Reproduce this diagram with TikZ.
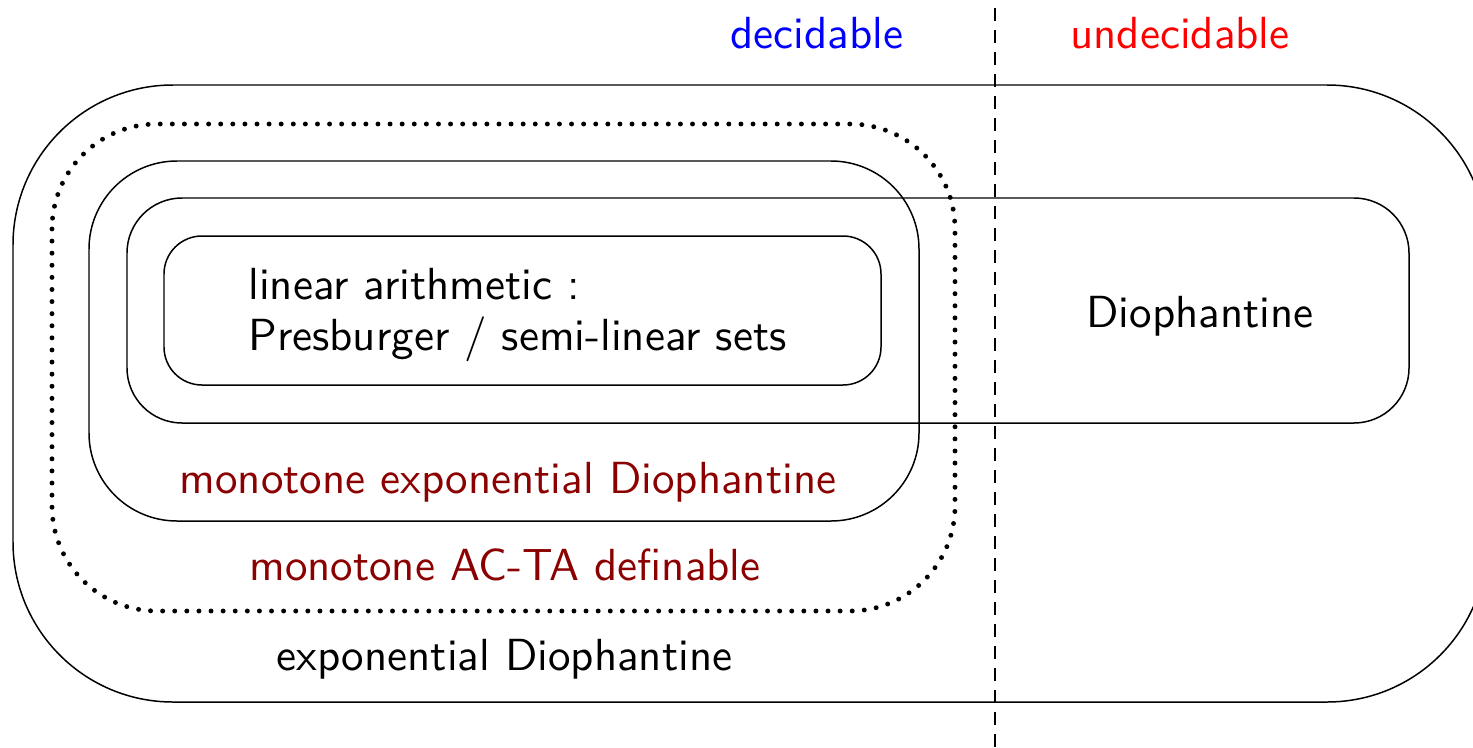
\documentclass[tikz,border=0pt]{standalone}
\usepackage{fontspec}
\newfontfamily\tensans{lmsans10-regular.otf}
\definecolor{darkred}{RGB}{139,0,0}
\tikzset{
  box/.style={draw, line width=0.85pt},
  dotbox/.style={draw, line width=2.8pt, line cap=round, dash pattern=on 0pt off 0.242cm},
  sep/.style={draw, line width=0.8pt, dash pattern=on 0.26cm off 0.18cm},
  lbl/.style={font=\tensans\fontsize{25.6}{30}\selectfont, inner sep=0pt}
}
\begin{document}
\begin{tikzpicture}[x=0.02cm, y=-0.02cm]
\useasboundingbox (0,0) rectangle (1473,747);
\clip (0,0) rectangle (1473,747);
% separator
\coordinate (dtop) at (995,8);
\coordinate (dbot) at (995,747);
\draw[sep] (dtop) -- (dbot);
% sets
\draw[box, rounded corners=3.2cm] (13,85) rectangle (1487,702);
\draw[dotbox, rounded corners=2.1cm] (52,124) rectangle (955,611);
\draw[box, rounded corners=1.76cm] (89,161) rectangle (919,521);
\draw[box, rounded corners=1.1cm] (127,198) rectangle (1409,423);
\draw[box, rounded corners=0.76cm] (164,236) rectangle (881,385);
% labels
\node[lbl, text=blue, anchor=base] (dec) at (817,48) {decidable};
\node[lbl, text=red, anchor=base] (undec) at (1180,48) {undecidable};
\node[lbl, anchor=base west] (lin1) at (248,299) {linear arithmetic :};
\node[lbl, anchor=base west] (lin2) at (248,350) {Presburger / semi-linear sets};
\node[lbl, anchor=base] (dio) at (1200,327) {Diophantine};
\node[lbl, text=darkred, anchor=base] (med) at (508,493) {monotone exponential Diophantine};
\node[lbl, text=darkred, anchor=base] (acta) at (505,580) {monotone AC-TA definable};
\node[lbl, anchor=base] (ed) at (504.5,670) {exponential Diophantine};
\end{tikzpicture}
\end{document}
